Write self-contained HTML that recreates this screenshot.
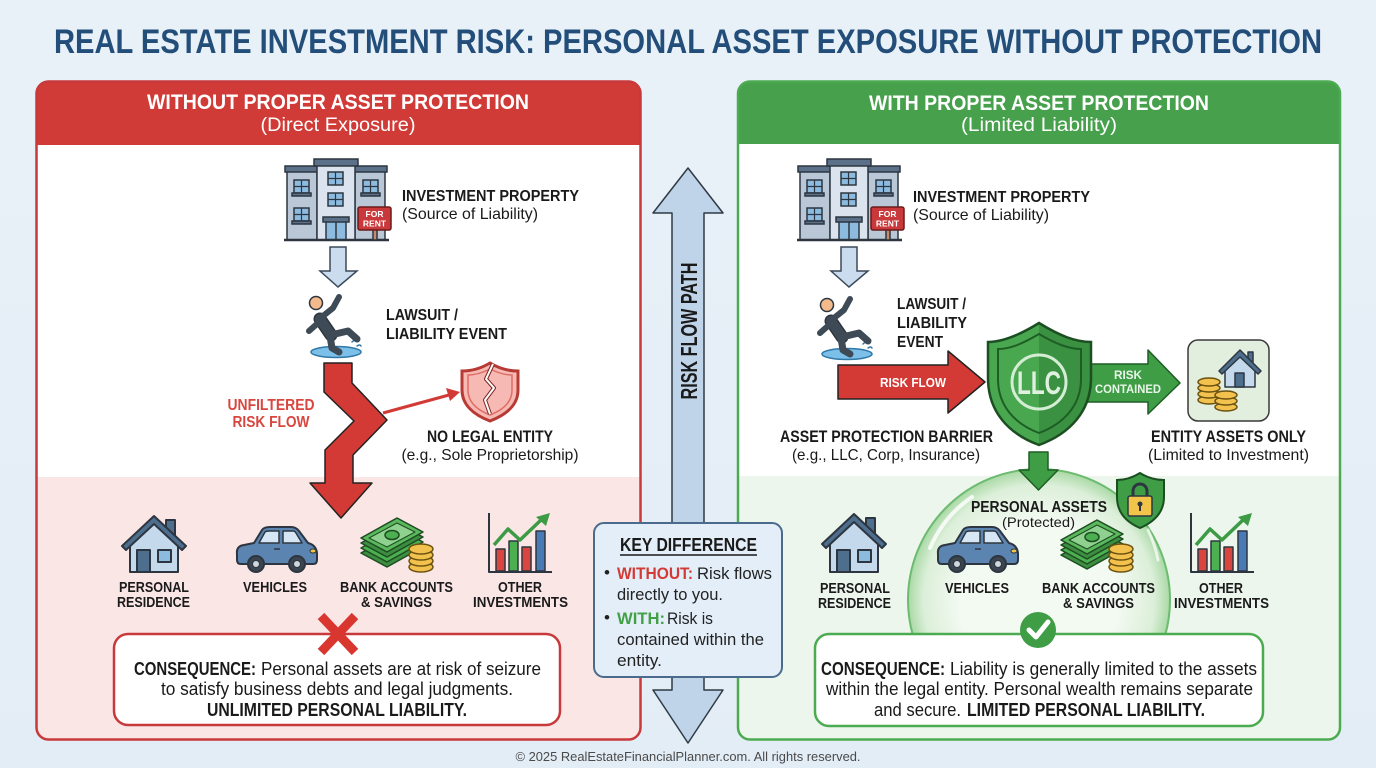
<!DOCTYPE html>
<html><head><meta charset="utf-8"><style>
html,body{margin:0;padding:0;width:1376px;height:768px;overflow:hidden;background:#e8f0f8}
svg{display:block}
text{font-family:"Liberation Sans",Arial,sans-serif}
</style></head><body>
<svg width="1376" height="768" viewBox="0 0 1376 768" xmlns="http://www.w3.org/2000/svg">
<defs>
<linearGradient id="bgg" x1="0" y1="0" x2="0" y2="1"><stop offset="0" stop-color="#e9f1f8"/><stop offset="1" stop-color="#e3edf6"/></linearGradient>
<radialGradient id="bub" cx="0.5" cy="0.5" r="0.5"><stop offset="0.6" stop-color="#f3faf2"/><stop offset="0.88" stop-color="#dcefd9"/><stop offset="1" stop-color="#a9d9a5"/></radialGradient>
<clipPath id="clipL"><rect x="36.5" y="81.5" width="604" height="658" rx="12"/></clipPath>
<clipPath id="clipR"><rect x="738" y="81.5" width="602" height="658" rx="12"/></clipPath>
<clipPath id="clipB"><rect x="738" y="440" width="602" height="260"/></clipPath>
</defs>
<rect x="0" y="0" width="1376" height="768" fill="url(#bgg)"/>

<!-- Title -->
<text x="688" y="53" text-anchor="middle" font-size="34" font-weight="bold" fill="#234e7a" textLength="1268" lengthAdjust="spacingAndGlyphs">REAL ESTATE INVESTMENT RISK: PERSONAL ASSET EXPOSURE WITHOUT PROTECTION</text>

<!-- LEFT PANEL -->
<g clip-path="url(#clipL)">
<rect x="36" y="81" width="606" height="660" fill="#ffffff"/>
<rect x="36" y="81" width="606" height="64" fill="#d13b37"/>
<rect x="36" y="477" width="606" height="264" fill="#fbe6e6"/>
</g>
<rect x="36.5" y="81.5" width="604" height="658" rx="12" fill="none" stroke="#c7393a" stroke-width="2.5"/>
<text x="338" y="109" text-anchor="middle" font-size="21" font-weight="bold" fill="#fff" textLength="382" lengthAdjust="spacingAndGlyphs">WITHOUT PROPER ASSET PROTECTION</text>
<text x="338" y="131" text-anchor="middle" font-size="19" fill="#fff" textLength="155" lengthAdjust="spacingAndGlyphs">(Direct Exposure)</text>

<!-- RIGHT PANEL -->
<g clip-path="url(#clipR)">
<rect x="737" y="81" width="606" height="660" fill="#ffffff"/>
<rect x="737" y="81" width="606" height="63" fill="#47a04c"/>
<rect x="737" y="476" width="606" height="265" fill="#edf6ec"/>
</g>
<rect x="738" y="81.5" width="602" height="658" rx="12" fill="none" stroke="#4cab50" stroke-width="2.5"/>
<text x="1039" y="110" text-anchor="middle" font-size="21" font-weight="bold" fill="#fff" textLength="340" lengthAdjust="spacingAndGlyphs">WITH PROPER ASSET PROTECTION</text>
<text x="1039" y="131" text-anchor="middle" font-size="19" fill="#fff" textLength="156" lengthAdjust="spacingAndGlyphs">(Limited Liability)</text>

<!-- Buildings -->
<g transform="translate(287,159)" stroke="#2d3640" stroke-width="1.5">
 <rect x="0" y="10" width="30" height="71" fill="#b9c7d6"/>
 <rect x="68" y="10" width="30" height="71" fill="#b9c7d6"/>
 <rect x="-2" y="7" width="34" height="6" fill="#5b7189"/>
 <rect x="66" y="7" width="34" height="6" fill="#5b7189"/>
 <rect x="30" y="6" width="38" height="75" fill="#dbe4ee"/>
 <rect x="27" y="0" width="44" height="7" fill="#5b7189"/>
 <g fill="#8dbbe0"><rect x="7" y="21" width="15" height="13"/><rect x="7" y="49" width="15" height="13"/><rect x="76" y="21" width="15" height="13"/><rect x="41" y="13" width="15" height="13"/><rect x="41" y="34" width="15" height="13"/></g>
 <g fill="#5b7189"><rect x="5" y="34" width="19" height="3"/><rect x="5" y="62" width="19" height="3"/><rect x="74" y="34" width="19" height="3"/></g>
 <path d="M14.5,21V34M7,27.5H22M83.5,21V34M76,27.5H91M14.5,49V62M7,55.5H22M48.5,13V26M41,19.5H56M48.5,34V47M41,40.5H56" fill="none" stroke-width="1.2"/>
 <rect x="39" y="62" width="20" height="19" fill="#8dbbe0"/><rect x="36" y="58" width="26" height="5" fill="#5b7189"/><path d="M49,63V81" fill="none"/>
 <path d="M-3,81H102" stroke-width="2.5"/>
 <rect x="86" y="70" width="4" height="11" fill="#c98a6a"/>
 <rect x="71" y="48" width="33" height="23" rx="2" fill="#c9383a" stroke="#6e1a1a"/>
 <text x="87.5" y="58" text-anchor="middle" font-size="8.5" font-weight="bold" fill="#fff" stroke="none">FOR</text>
 <text x="87.5" y="67.5" text-anchor="middle" font-size="8.5" font-weight="bold" fill="#fff" stroke="none">RENT</text>
</g>
<g transform="translate(800,159)" stroke="#2d3640" stroke-width="1.5">
 <rect x="0" y="10" width="30" height="71" fill="#b9c7d6"/>
 <rect x="68" y="10" width="30" height="71" fill="#b9c7d6"/>
 <rect x="-2" y="7" width="34" height="6" fill="#5b7189"/>
 <rect x="66" y="7" width="34" height="6" fill="#5b7189"/>
 <rect x="30" y="6" width="38" height="75" fill="#dbe4ee"/>
 <rect x="27" y="0" width="44" height="7" fill="#5b7189"/>
 <g fill="#8dbbe0"><rect x="7" y="21" width="15" height="13"/><rect x="7" y="49" width="15" height="13"/><rect x="76" y="21" width="15" height="13"/><rect x="41" y="13" width="15" height="13"/><rect x="41" y="34" width="15" height="13"/></g>
 <g fill="#5b7189"><rect x="5" y="34" width="19" height="3"/><rect x="5" y="62" width="19" height="3"/><rect x="74" y="34" width="19" height="3"/></g>
 <path d="M14.5,21V34M7,27.5H22M83.5,21V34M76,27.5H91M14.5,49V62M7,55.5H22M48.5,13V26M41,19.5H56M48.5,34V47M41,40.5H56" fill="none" stroke-width="1.2"/>
 <rect x="39" y="62" width="20" height="19" fill="#8dbbe0"/><rect x="36" y="58" width="26" height="5" fill="#5b7189"/><path d="M49,63V81" fill="none"/>
 <path d="M-3,81H102" stroke-width="2.5"/>
 <rect x="86" y="70" width="4" height="11" fill="#c98a6a"/>
 <rect x="71" y="48" width="33" height="23" rx="2" fill="#c9383a" stroke="#6e1a1a"/>
 <text x="87.5" y="58" text-anchor="middle" font-size="8.5" font-weight="bold" fill="#fff" stroke="none">FOR</text>
 <text x="87.5" y="67.5" text-anchor="middle" font-size="8.5" font-weight="bold" fill="#fff" stroke="none">RENT</text>
</g>

<!-- labels investment property -->
<text x="402" y="201" font-size="16" font-weight="bold" fill="#1a1a1a" textLength="177" lengthAdjust="spacingAndGlyphs">INVESTMENT PROPERTY</text>
<text x="402" y="219" font-size="16" fill="#1a1a1a" textLength="136" lengthAdjust="spacingAndGlyphs">(Source of Liability)</text>
<text x="913" y="202" font-size="16" font-weight="bold" fill="#1a1a1a" textLength="177" lengthAdjust="spacingAndGlyphs">INVESTMENT PROPERTY</text>
<text x="913" y="220" font-size="16" fill="#1a1a1a" textLength="136" lengthAdjust="spacingAndGlyphs">(Source of Liability)</text>

<!-- small down arrows -->
<path d="M330,247H346V271H357L338,287L320,271H330Z" fill="#cadcee" stroke="#3b4a5a" stroke-width="1.5"/>
<path d="M841,247H857V271H868L849,287L831,271H841Z" fill="#cadcee" stroke="#3b4a5a" stroke-width="1.5"/>

<!-- falling persons -->
<g transform="translate(305,292)" stroke-linecap="round" stroke-linejoin="round">
 <ellipse cx="31" cy="60" rx="25" ry="5.5" fill="#7cc0ea" stroke="#2f78a8" stroke-width="1.5"/>
 <path d="M47,50q4,-4 6,-1M52,54q3,-2 4,0" stroke="#2f78a8" stroke-width="1.5" fill="none"/>
 <path d="M15,27L26,43" stroke="#2d3640" stroke-width="13" fill="none"/>
 <path d="M15,27L26,43" stroke="#3e4a55" stroke-width="10" fill="none"/>
 <path d="M18,24L28,16L34,5" stroke="#3e4a55" stroke-width="6" fill="none"/>
 <path d="M13,31L4,39" stroke="#3e4a55" stroke-width="6" fill="none"/>
 <path d="M26,43L43,39L52,47" stroke="#3e4a55" stroke-width="7" fill="none"/>
 <path d="M25,44L27,56L34,60" stroke="#3e4a55" stroke-width="7" fill="none"/>
 <circle cx="11" cy="11" r="6.5" fill="#f3ba8c" stroke="#2d3640" stroke-width="1.5"/>
</g>
<g transform="translate(816,294)" stroke-linecap="round" stroke-linejoin="round">
 <ellipse cx="31" cy="60" rx="25" ry="5.5" fill="#7cc0ea" stroke="#2f78a8" stroke-width="1.5"/>
 <path d="M47,50q4,-4 6,-1M52,54q3,-2 4,0" stroke="#2f78a8" stroke-width="1.5" fill="none"/>
 <path d="M15,27L26,43" stroke="#2d3640" stroke-width="13" fill="none"/>
 <path d="M15,27L26,43" stroke="#3e4a55" stroke-width="10" fill="none"/>
 <path d="M18,24L28,16L34,5" stroke="#3e4a55" stroke-width="6" fill="none"/>
 <path d="M13,31L4,39" stroke="#3e4a55" stroke-width="6" fill="none"/>
 <path d="M26,43L43,39L52,47" stroke="#3e4a55" stroke-width="7" fill="none"/>
 <path d="M25,44L27,56L34,60" stroke="#3e4a55" stroke-width="7" fill="none"/>
 <circle cx="11" cy="11" r="6.5" fill="#f3ba8c" stroke="#2d3640" stroke-width="1.5"/>
</g>

<text x="386" y="320" font-size="16" font-weight="bold" fill="#1a1a1a" textLength="72" lengthAdjust="spacingAndGlyphs">LAWSUIT /</text>
<text x="386" y="339" font-size="16" font-weight="bold" fill="#1a1a1a" textLength="121" lengthAdjust="spacingAndGlyphs">LIABILITY EVENT</text>
<text x="897" y="309" font-size="16" font-weight="bold" fill="#1a1a1a" textLength="69" lengthAdjust="spacingAndGlyphs">LAWSUIT /</text>
<text x="897" y="328" font-size="16" font-weight="bold" fill="#1a1a1a" textLength="70" lengthAdjust="spacingAndGlyphs">LIABILITY</text>
<text x="897" y="347" font-size="16" font-weight="bold" fill="#1a1a1a" textLength="46" lengthAdjust="spacingAndGlyphs">EVENT</text>

<!-- zigzag red arrow -->
<polygon points="324,363 352,363 352,383 387,420 353,455 353,483 372,483 341,518 310,483 325,483 325,450 354,421 324,392" fill="#d33a35" stroke="#222" stroke-width="1.5" stroke-linejoin="round"/>
<text x="271" y="410" text-anchor="middle" font-size="16" font-weight="bold" fill="#d9453f" textLength="87" lengthAdjust="spacingAndGlyphs">UNFILTERED</text>
<text x="271" y="427" text-anchor="middle" font-size="16" font-weight="bold" fill="#d9453f" textLength="77" lengthAdjust="spacingAndGlyphs">RISK FLOW</text>
<!-- thin arrow -->
<path d="M383,413L449,395" stroke="#d33a35" stroke-width="3" fill="none"/>
<polygon points="460,392 446,388 450,401" fill="#d33a35"/>
<!-- broken shield -->
<path d="M490,363C500,369 510,371 518,371L518,390C518,405 506,415 490,421C474,415 462,405 462,390L462,371C470,371 480,369 490,363Z" fill="#f6b9b3" stroke="#b73a35" stroke-width="3"/>
<path d="M490,369C498,373 505,375 512,375L512,390C512,402 503,410 490,415C477,410 468,402 468,390L468,375C475,375 482,373 490,369Z" fill="none" stroke="#de6e66" stroke-width="1.5"/>
<path d="M493,364L486,379L494,388L485,400L490,414" fill="none" stroke="#7a2420" stroke-width="4" stroke-linejoin="round"/>
<path d="M493,364L486,379L494,388L485,400L490,414" fill="none" stroke="#fff" stroke-width="2" stroke-linejoin="round"/>
<text x="490" y="442" text-anchor="middle" font-size="17" font-weight="bold" fill="#1a1a1a" textLength="126" lengthAdjust="spacingAndGlyphs">NO LEGAL ENTITY</text>
<text x="490" y="460" text-anchor="middle" font-size="16" fill="#1a1a1a" textLength="177" lengthAdjust="spacingAndGlyphs">(e.g., Sole Proprietorship)</text>

<!-- RIGHT middle: red arrow -->
<polygon points="838,365 948,365 948,351 985,382 948,413 948,399 838,399" fill="#d33a35" stroke="#222" stroke-width="1.5" stroke-linejoin="round"/>
<text x="913" y="387" text-anchor="middle" font-size="13" font-weight="bold" fill="#fff" textLength="66" lengthAdjust="spacingAndGlyphs">RISK FLOW</text>
<!-- green arrow -->
<polygon points="1085,364 1148,364 1148,350 1180,383 1148,414 1148,402 1085,402" fill="#3f9d46" stroke="#1e5e25" stroke-width="1.5" stroke-linejoin="round"/>
<text x="1128" y="379" text-anchor="middle" font-size="11.5" font-weight="bold" fill="#e8f5e9" textLength="28" lengthAdjust="spacingAndGlyphs">RISK</text>
<text x="1128" y="393" text-anchor="middle" font-size="11.5" font-weight="bold" fill="#e8f5e9" textLength="66" lengthAdjust="spacingAndGlyphs">CONTAINED</text>
<!-- LLC shield -->
<path d="M1039,323C1060,336 1076,342 1091,342L1091,378C1091,412 1069,434 1039,445C1009,434 988,412 988,378L988,342C1002,342 1018,336 1039,323Z" fill="#49a84f"/>
<path d="M1039,323C1060,336 1076,342 1091,342L1091,378C1091,412 1069,434 1039,445Z" fill="#3a9141"/>
<path d="M1039,323C1060,336 1076,342 1091,342L1091,378C1091,412 1069,434 1039,445C1009,434 988,412 988,378L988,342C1002,342 1018,336 1039,323Z" fill="none" stroke="#1b4f22" stroke-width="2.5"/>
<path d="M1039,334C1056,344 1069,349 1081,349L1081,379C1081,406 1063,424 1039,433C1015,424 998,406 998,379L998,349C1010,349 1022,344 1039,334Z" fill="none" stroke="#1e5e25" stroke-width="2"/>
<circle cx="1039" cy="382" r="27" fill="none" stroke="#d4edd4" stroke-width="3"/>
<text x="1039" y="394" text-anchor="middle" font-size="32" font-weight="bold" fill="#dff0df" textLength="44" lengthAdjust="spacingAndGlyphs">LLC</text>
<!-- entity box -->
<rect x="1188" y="340" width="81" height="81" rx="10" fill="#e2efdf" stroke="#3a3a3a" stroke-width="1.5"/>
<g stroke="#2d3640" stroke-width="1.5" stroke-linejoin="round">
 <rect x="1248" y="352" width="5" height="10" fill="#4e6e8e"/>
 <path d="M1225,368V387H1255V368L1240,355Z" fill="#c5d9ec"/>
 <path d="M1219,371L1240,350L1261,371L1258,374L1240,357L1222,374Z" fill="#4e6e8e"/>
 <rect x="1235" y="373" width="9" height="14" fill="#4e6e8e"/>
 <g fill="#f2c14e" stroke="#6b5210">
  <ellipse cx="1209" cy="400" rx="11" ry="4"/><ellipse cx="1209" cy="394" rx="11" ry="4"/><ellipse cx="1209" cy="388" rx="11" ry="4"/><ellipse cx="1209" cy="382" rx="11" ry="4"/>
  <ellipse cx="1226" cy="407" rx="11" ry="4"/><ellipse cx="1226" cy="401" rx="11" ry="4"/><ellipse cx="1226" cy="395" rx="11" ry="4"/>
 </g>
</g>
<text x="886.5" y="442" text-anchor="middle" font-size="17" font-weight="bold" fill="#1a1a1a" textLength="213" lengthAdjust="spacingAndGlyphs">ASSET PROTECTION BARRIER</text>
<text x="886" y="460" text-anchor="middle" font-size="16" fill="#1a1a1a" textLength="188" lengthAdjust="spacingAndGlyphs">(e.g., LLC, Corp, Insurance)</text>
<text x="1228.5" y="442" text-anchor="middle" font-size="17" font-weight="bold" fill="#1a1a1a" textLength="155" lengthAdjust="spacingAndGlyphs">ENTITY ASSETS ONLY</text>
<text x="1228.5" y="460" text-anchor="middle" font-size="16" fill="#1a1a1a" textLength="161" lengthAdjust="spacingAndGlyphs">(Limited to Investment)</text>

<!-- bubble -->
<g clip-path="url(#clipB)">
<circle cx="1039" cy="600" r="131" fill="url(#bub)" stroke="#6dbb70" stroke-width="2"/>
<path d="M930,548A118,118 0 0 1 972,497" fill="none" stroke="#ffffff" stroke-width="4" stroke-linecap="round" opacity="0.8"/>
<path d="M1148,530A118,118 0 0 1 1158,560" fill="none" stroke="#ffffff" stroke-width="3" stroke-linecap="round" opacity="0.7"/>
</g>
<!-- green down arrow -->
<polygon points="1029,452 1048,452 1048,470 1058,470 1038.5,490 1019,470 1029,470" fill="#3f9d46" stroke="#1e5e25" stroke-width="1.5" stroke-linejoin="round"/>
<text x="1039" y="512" text-anchor="middle" font-size="16" font-weight="bold" fill="#1a1a1a" textLength="136" lengthAdjust="spacingAndGlyphs">PERSONAL ASSETS</text>
<text x="1038.5" y="527" text-anchor="middle" font-size="14" fill="#1a1a1a" textLength="73" lengthAdjust="spacingAndGlyphs">(Protected)</text>
<!-- lock shield -->
<path d="M1140,473C1148,478 1156,480 1164,480L1164,497C1164,512 1154,522 1140,528C1126,522 1117,512 1117,497L1117,480C1125,480 1132,478 1140,473Z" fill="#3f9d46" stroke="#1b4f22" stroke-width="2"/>
<path d="M1133,497V491A7,7 0 0 1 1147,491V497" fill="none" stroke="#2d3640" stroke-width="3"/>
<rect x="1128" y="496" width="24" height="20" rx="2" fill="#f3c44a" stroke="#2d3640" stroke-width="1.5"/>
<circle cx="1140" cy="504" r="2.5" fill="#2d3640"/><rect x="1139" y="505" width="2" height="6" fill="#2d3640"/>

<!-- ICONS left -->
<g stroke="#2d3640" stroke-width="2" stroke-linejoin="round">
 <g transform="translate(120,512)">
  <rect x="46" y="8" width="9" height="18" fill="#4e6e8e"/>
  <path d="M10,30V60H58V30L34,9Z" fill="#c5d9ec"/>
  <path d="M2,34L34,4L66,34L62,38L34,12L6,38Z" fill="#4e6e8e"/>
  <rect x="17" y="38" width="13" height="22" fill="#4e6e8e"/>
  <rect x="38" y="38" width="13" height="12" fill="#8dbbe0"/>
 </g>
 <g transform="translate(234,525)">
  <path d="M3,29Q2,21 10,20L20,18L28,5Q30,2 36,2L57,2Q62,2 65,6L74,18Q82,20 83,28L83,35Q83,39 79,39L7,39Q3,39 3,35Z" fill="#5b84b1"/>
  <path d="M25,18L31,7Q32,6 35,6L45,6L45,18Z" fill="#d6e6f5" stroke-width="1.5"/>
  <path d="M49,6L59,6Q61,6 62,8L68,18L49,18Z" fill="#d6e6f5" stroke-width="1.5"/>
  <circle cx="22" cy="39" r="8" fill="#3a4550"/><circle cx="22" cy="39" r="3.5" fill="#cfd6dd" stroke-width="1"/>
  <circle cx="63" cy="39" r="8" fill="#3a4550"/><circle cx="63" cy="39" r="3.5" fill="#cfd6dd" stroke-width="1"/>
  <ellipse cx="79" cy="26" rx="3" ry="2" fill="#f3c44a" stroke-width="1"/>
  <path d="M40,24H46" stroke-width="1.5"/>
 </g>
 <g transform="translate(361,513)" stroke="#1d4d22" stroke-width="1.5">
  <polygon points="0,40 36,20 62,34 26,54" fill="#3e8e41"/>
  <polygon points="0,35 36,15 62,29 26,49" fill="#4caf50"/>
  <polygon points="0,30 36,10 62,24 26,44" fill="#3e8e41"/>
  <polygon points="0,25 36,5 62,19 26,39" fill="#5cb85c"/>
  <polygon points="8,25 36,10 54,19 26,34" fill="#8fd18f" stroke-width="1"/>
  <ellipse cx="31" cy="22" rx="7" ry="4.5" fill="#4caf50"/>
  <g fill="#f2c14e" stroke="#6b5210">
   <ellipse cx="60" cy="54" rx="12" ry="5"/><ellipse cx="60" cy="48" rx="12" ry="5"/><ellipse cx="60" cy="42" rx="12" ry="5"/><ellipse cx="60" cy="36" rx="12" ry="5"/>
  </g>
 </g>
 <g transform="translate(486,513)">
  <rect x="10" y="36" width="9" height="22" fill="#d9453f" stroke-width="1.5"/>
  <rect x="23" y="28" width="9" height="30" fill="#4caf50" stroke-width="1.5"/>
  <rect x="36" y="34" width="9" height="24" fill="#d9453f" stroke-width="1.5"/>
  <rect x="50" y="18" width="9" height="40" fill="#4a7ab5" stroke-width="1.5"/>
  <path d="M3,0V59H66" fill="none" stroke-width="2"/>
  <polyline points="8,32 22,16 34,27 55,7" fill="none" stroke="#3d9a45" stroke-width="3.5"/>
  <polygon points="64,0 50,4 60,13" fill="#3d9a45" stroke="none"/>
 </g>
</g>
<!-- ICONS right -->
<g stroke="#2d3640" stroke-width="2" stroke-linejoin="round">
 <g transform="translate(820,510)">
  <rect x="46" y="8" width="9" height="18" fill="#4e6e8e"/>
  <path d="M10,30V62H58V30L34,9Z" fill="#c5d9ec"/>
  <path d="M2,34L34,4L66,34L62,38L34,12L6,38Z" fill="#4e6e8e"/>
  <rect x="17" y="40" width="13" height="22" fill="#4e6e8e"/>
  <rect x="38" y="40" width="13" height="12" fill="#8dbbe0"/>
 </g>
 <g transform="translate(935,525)">
  <path d="M3,29Q2,21 10,20L20,18L28,5Q30,2 36,2L57,2Q62,2 65,6L74,18Q82,20 83,28L83,35Q83,39 79,39L7,39Q3,39 3,35Z" fill="#5b84b1"/>
  <path d="M25,18L31,7Q32,6 35,6L45,6L45,18Z" fill="#d6e6f5" stroke-width="1.5"/>
  <path d="M49,6L59,6Q61,6 62,8L68,18L49,18Z" fill="#d6e6f5" stroke-width="1.5"/>
  <circle cx="22" cy="39" r="8" fill="#3a4550"/><circle cx="22" cy="39" r="3.5" fill="#cfd6dd" stroke-width="1"/>
  <circle cx="63" cy="39" r="8" fill="#3a4550"/><circle cx="63" cy="39" r="3.5" fill="#cfd6dd" stroke-width="1"/>
  <ellipse cx="79" cy="26" rx="3" ry="2" fill="#f3c44a" stroke-width="1"/>
  <path d="M40,24H46" stroke-width="1.5"/>
 </g>
 <g transform="translate(1061,517)" stroke="#1d4d22" stroke-width="1.5">
  <polygon points="0,38 36,18 62,32 26,52" fill="#3e8e41"/>
  <polygon points="0,33 36,13 62,27 26,47" fill="#4caf50"/>
  <polygon points="0,28 36,8 62,22 26,42" fill="#3e8e41"/>
  <polygon points="0,23 36,3 62,17 26,37" fill="#5cb85c"/>
  <polygon points="8,23 36,8 54,17 26,32" fill="#8fd18f" stroke-width="1"/>
  <ellipse cx="31" cy="20" rx="7" ry="4.5" fill="#4caf50"/>
  <g fill="#f2c14e" stroke="#6b5210">
   <ellipse cx="60" cy="50" rx="12" ry="5"/><ellipse cx="60" cy="44" rx="12" ry="5"/><ellipse cx="60" cy="38" rx="12" ry="5"/><ellipse cx="60" cy="32" rx="12" ry="5"/>
  </g>
 </g>
 <g transform="translate(1188,513)">
  <rect x="10" y="36" width="9" height="22" fill="#d9453f" stroke-width="1.5"/>
  <rect x="23" y="28" width="9" height="30" fill="#4caf50" stroke-width="1.5"/>
  <rect x="36" y="34" width="9" height="24" fill="#d9453f" stroke-width="1.5"/>
  <rect x="50" y="18" width="9" height="40" fill="#4a7ab5" stroke-width="1.5"/>
  <path d="M3,0V59H66" fill="none" stroke-width="2"/>
  <polyline points="8,32 22,16 34,27 55,7" fill="none" stroke="#3d9a45" stroke-width="3.5"/>
  <polygon points="64,0 50,4 60,13" fill="#3d9a45" stroke="none"/>
 </g>
</g>

<!-- icon labels -->
<g font-size="15" font-weight="bold" fill="#1a1a1a" text-anchor="middle">
<text x="154" y="592" textLength="70" lengthAdjust="spacingAndGlyphs">PERSONAL</text>
<text x="153.5" y="607" textLength="73" lengthAdjust="spacingAndGlyphs">RESIDENCE</text>
<text x="275" y="592" textLength="64" lengthAdjust="spacingAndGlyphs">VEHICLES</text>
<text x="396.5" y="592" textLength="113" lengthAdjust="spacingAndGlyphs">BANK ACCOUNTS</text>
<text x="396.5" y="607" textLength="71" lengthAdjust="spacingAndGlyphs">&amp; SAVINGS</text>
<text x="520" y="592" textLength="44" lengthAdjust="spacingAndGlyphs">OTHER</text>
<text x="520.5" y="607" textLength="95" lengthAdjust="spacingAndGlyphs">INVESTMENTS</text>
<text x="855" y="593" textLength="70" lengthAdjust="spacingAndGlyphs">PERSONAL</text>
<text x="854.5" y="608" textLength="73" lengthAdjust="spacingAndGlyphs">RESIDENCE</text>
<text x="977" y="593" textLength="64" lengthAdjust="spacingAndGlyphs">VEHICLES</text>
<text x="1098.5" y="593" textLength="113" lengthAdjust="spacingAndGlyphs">BANK ACCOUNTS</text>
<text x="1098.5" y="608" textLength="71" lengthAdjust="spacingAndGlyphs">&amp; SAVINGS</text>
<text x="1221" y="593" textLength="44" lengthAdjust="spacingAndGlyphs">OTHER</text>
<text x="1221.5" y="608" textLength="95" lengthAdjust="spacingAndGlyphs">INVESTMENTS</text>
</g>

<!-- consequence boxes -->
<rect x="114" y="634" width="446" height="91" rx="14" fill="#fff" stroke="#c7393a" stroke-width="2.5"/>
<path d="M321,616L355,652M355,616L321,652" stroke="#d9362f" stroke-width="9" stroke-linecap="butt"/>
<g font-size="18" fill="#1a1a1a">
<text x="134" y="675" font-weight="bold" textLength="122" lengthAdjust="spacingAndGlyphs">CONSEQUENCE:</text>
<text x="261" y="675" textLength="280" lengthAdjust="spacingAndGlyphs">Personal assets are at risk of seizure</text>
<text x="161" y="695" textLength="352" lengthAdjust="spacingAndGlyphs">to satisfy business debts and legal judgments.</text>
<text x="207" y="716" font-weight="bold" textLength="260" lengthAdjust="spacingAndGlyphs">UNLIMITED PERSONAL LIABILITY.</text>
</g>
<rect x="815" y="634" width="448" height="92" rx="14" fill="#fff" stroke="#4cab50" stroke-width="2.5"/>
<circle cx="1038" cy="630" r="18" fill="#3f9d46"/>
<polyline points="1029,630 1036,637 1048,622" fill="none" stroke="#fff" stroke-width="5" stroke-linecap="round" stroke-linejoin="round"/>
<g font-size="18" fill="#1a1a1a">
<text x="821" y="675" font-weight="bold" textLength="124" lengthAdjust="spacingAndGlyphs">CONSEQUENCE:</text>
<text x="950" y="675" textLength="307" lengthAdjust="spacingAndGlyphs">Liability is generally limited to the assets</text>
<text x="826" y="695" textLength="427" lengthAdjust="spacingAndGlyphs">within the legal entity. Personal wealth remains separate</text>
<text x="874" y="716" textLength="87" lengthAdjust="spacingAndGlyphs">and secure.</text>
<text x="967" y="716" font-weight="bold" textLength="238" lengthAdjust="spacingAndGlyphs">LIMITED PERSONAL LIABILITY.</text>
</g>

<!-- center double arrow -->
<polygon points="688,168 723,213 704,213 704,690 723,690 688,743 653,690 672,690 672,213 653,213" fill="#bfd4e8" stroke="#2f3a45" stroke-width="1.5" stroke-linejoin="round"/>
<text transform="translate(697,331) rotate(-90)" x="0" y="0" text-anchor="middle" font-size="23" font-weight="bold" fill="#1a1a1a" textLength="137" lengthAdjust="spacingAndGlyphs">RISK FLOW PATH</text>

<!-- key difference -->
<rect x="594" y="523" width="188" height="154" rx="10" fill="#e3eef8" stroke="#4b6b8c" stroke-width="2"/>
<text x="688.5" y="551" text-anchor="middle" font-size="18" font-weight="bold" fill="#1a1a1a" textLength="137" lengthAdjust="spacingAndGlyphs">KEY DIFFERENCE</text>
<path d="M620,555H757" stroke="#1a1a1a" stroke-width="1.5"/>
<g font-size="17" fill="#222">
<text x="604" y="578">•</text>
<text x="617" y="579" font-weight="bold" fill="#d33a35" textLength="76" lengthAdjust="spacingAndGlyphs">WITHOUT:</text>
<text x="697" y="579" textLength="75" lengthAdjust="spacingAndGlyphs">Risk flows</text>
<text x="617" y="600" textLength="106" lengthAdjust="spacingAndGlyphs">directly to you.</text>
<text x="604" y="623">•</text>
<text x="617" y="624" font-weight="bold" fill="#43a047" textLength="48" lengthAdjust="spacingAndGlyphs">WITH:</text>
<text x="667" y="624" textLength="46" lengthAdjust="spacingAndGlyphs">Risk is</text>
<text x="617" y="645" textLength="147" lengthAdjust="spacingAndGlyphs">contained within the</text>
<text x="617" y="666" textLength="45" lengthAdjust="spacingAndGlyphs">entity.</text>
</g>

<!-- footer -->
<text x="688" y="761" text-anchor="middle" font-size="13" fill="#4a4a4a" textLength="345" lengthAdjust="spacingAndGlyphs">© 2025 RealEstateFinancialPlanner.com. All rights reserved.</text>
</svg>
</body></html>
